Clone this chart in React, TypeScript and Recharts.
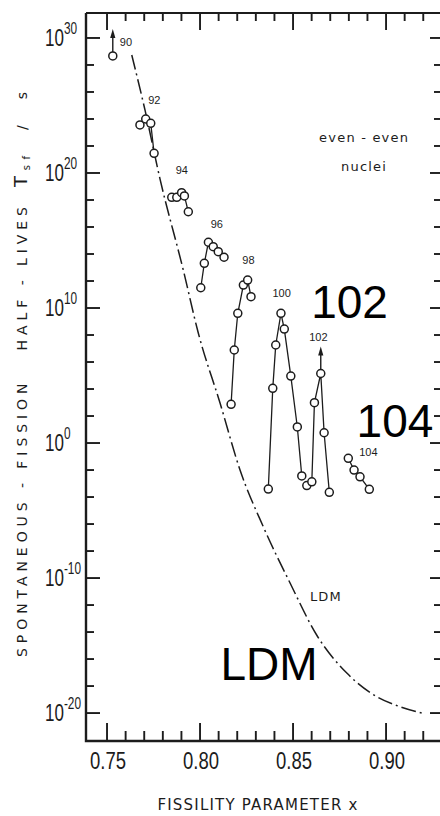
import React from 'react';
import { ComposedChart, Line, Scatter, XAxis, YAxis } from 'recharts';

const INK = '#1c1c1c';

// x = fissility parameter, y = log10(T_sf / s)
const Z90 = [{ x: 0.7531, y: 28.67, lowerLimit: true }];
const Z92 = [
  { x: 0.7677, y: 23.56 },
  { x: 0.7708, y: 24.0 },
  { x: 0.7735, y: 23.68 },
  { x: 0.7753, y: 21.46 },
];
const Z94 = [
  { x: 0.7848, y: 18.2 },
  { x: 0.7875, y: 18.2 },
  { x: 0.7901, y: 18.54 },
  { x: 0.7916, y: 18.3 },
  { x: 0.7937, y: 17.13 },
];
const Z96 = [
  { x: 0.8004, y: 11.5 },
  { x: 0.8023, y: 13.31 },
  { x: 0.8045, y: 14.87 },
  { x: 0.8071, y: 14.54 },
  { x: 0.8098, y: 14.17 },
  { x: 0.8129, y: 13.76 },
];
const Z98 = [
  { x: 0.8167, y: 2.87 },
  { x: 0.8184, y: 6.89 },
  { x: 0.8203, y: 9.61 },
  { x: 0.8233, y: 11.7 },
  { x: 0.8256, y: 12.07 },
  { x: 0.8274, y: 10.84 },
];
const Z100 = [
  { x: 0.8367, y: -3.41 },
  { x: 0.8391, y: 4.05 },
  { x: 0.8407, y: 7.26 },
  { x: 0.8435, y: 9.61 },
  { x: 0.8453, y: 8.44 },
  { x: 0.8488, y: 4.96 },
  { x: 0.8523, y: 1.19 },
  { x: 0.8547, y: -2.44 },
];
const Z102 = [
  { x: 0.8574, y: -3.15 },
  { x: 0.8601, y: -2.87 },
  { x: 0.8615, y: 2.99 },
  { x: 0.8649, y: 5.15, lowerLimit: true },
  { x: 0.8667, y: 0.76 },
  { x: 0.8695, y: -3.65 },
];
const Z104 = [
  { x: 0.8797, y: -1.13 },
  { x: 0.8828, y: -2.0 },
  { x: 0.886, y: -2.5 },
  { x: 0.891, y: -3.43 },
];
const GROUPS = [Z90, Z92, Z94, Z96, Z98, Z100, Z102, Z104];

// liquid drop model curve
const LDM = [
  { x: 0.7633, y: 28.74 },
  { x: 0.7704, y: 24.67 },
  { x: 0.7785, y: 19.55 },
  { x: 0.791, y: 12.81 },
  { x: 0.7991, y: 8.13 },
  { x: 0.8108, y: 2.94 },
  { x: 0.8215, y: -2.0 },
  { x: 0.834, y: -6.2 },
  { x: 0.8484, y: -10.37 },
  { x: 0.8627, y: -14.22 },
  { x: 0.8789, y: -17.04 },
  { x: 0.895, y: -18.79 },
  { x: 0.9075, y: -19.53 },
  { x: 0.92, y: -20.02 },
];

const GROUP_LABELS = [
  { x: 0.7602, y: 29.7, text: '90' },
  { x: 0.7754, y: 25.4, text: '92' },
  { x: 0.7902, y: 20.2, text: '94' },
  { x: 0.809, y: 16.2, text: '96' },
  { x: 0.826, y: 13.56, text: '98' },
  { x: 0.8439, y: 11.1, text: '100' },
  { x: 0.8636, y: 7.85, text: '102' },
  { x: 0.8905, y: -0.7, text: '104' },
];
const NOTES = [
  { x: 0.8882, y: 22.6, text: 'even - even' },
  { x: 0.8882, y: 20.44, text: 'nuclei' },
  { x: 0.8677, y: -11.44, text: 'LDM' },
];
const BIG_LABELS = [
  { x: 0.8804, y: 10.48, text: '102' },
  { x: 0.9048, y: 1.7, text: '104' },
  { x: 0.8371, y: -16.33, text: 'LDM' },
];

const X_TICKS = [0.75, 0.76, 0.77, 0.78, 0.79, 0.8, 0.81, 0.82, 0.83, 0.84, 0.85, 0.86, 0.87, 0.88, 0.89, 0.9, 0.91, 0.92];
const Y_TICKS = [-20, -18, -16, -14, -12, -10, -8, -6, -4, -2, 0, 2, 4, 6, 8, 10, 12, 14, 16, 18, 20, 22, 24, 26, 28, 30];
const X_DOMAIN: [number, number] = [0.7387, 0.929];
const Y_DOMAIN: [number, number] = [-22.07, 31.85];

const isMajorX = (v: number) => Math.round(v * 100) % 5 === 0;
const isMajorY = (v: number) => v % 10 === 0;

// tick mark anchors on the four edges of the frame
const BOTTOM_MARKS = X_TICKS.map((x) => ({ x, y: Y_DOMAIN[0], major: isMajorX(x) }));
const TOP_MARKS = X_TICKS.map((x) => ({ x, y: Y_DOMAIN[1], major: isMajorX(x) }));
const LEFT_MARKS = Y_TICKS.map((y) => ({ x: X_DOMAIN[0], y, major: isMajorY(y) }));
const RIGHT_MARKS = Y_TICKS.map((y) => ({ x: X_DOMAIN[1], y, major: isMajorY(y) }));
const FRAME_LB = [
  { x: X_DOMAIN[0], y: Y_DOMAIN[1] },
  { x: X_DOMAIN[0], y: Y_DOMAIN[0] },
  { x: X_DOMAIN[1], y: Y_DOMAIN[0] },
];
const FRAME_TOP = [
  { x: X_DOMAIN[0], y: Y_DOMAIN[1] },
  { x: X_DOMAIN[1], y: Y_DOMAIN[1] },
];

const FONT = 'Liberation Sans, Arial, sans-serif';

const BottomTickLabel = (props: any) => {
  const { x, y, payload } = props;
  if (!isMajorX(payload.value)) return <g />;
  return (
    <text x={x + 1} y={y + 28} textAnchor="middle" fontFamily={FONT} fontSize={23} fill={INK} textLength={36}
      lengthAdjust="spacingAndGlyphs">
      {payload.value.toFixed(2)}
    </text>
  );
};

const LeftTickLabel = (props: any) => {
  const { x, y, payload } = props;
  const v = payload.value;
  if (!isMajorY(v)) return <g />;
  return (
    <g transform={`translate(${x - 41}, ${y + 8}) scale(0.74, 1)`}>
      <text x={0} y={0} fontFamily={FONT} fontSize={23} fill={INK}>
        10<tspan dy={-12} fontSize={16}>{String(v)}</tspan>
      </text>
    </g>
  );
};

const markShape = (dir: 'up' | 'down' | 'right' | 'left') => (p: any) => {
  const { cx, cy, payload } = p;
  const major = payload.major;
  let len: number;
  if (dir === 'up') len = major ? 18 : 10;
  else if (dir === 'down') len = major ? 17 : 8;
  else if (dir === 'right') len = major ? 14 : 8;
  else len = major ? 10 : 6;
  const dx = dir === 'right' ? len : dir === 'left' ? -len : 0;
  const dy = dir === 'up' ? -len : dir === 'down' ? len : 0;
  return <path d={`M${cx},${cy} L${cx + dx},${cy + dy}`} stroke={INK} strokeWidth={1.9} fill="none" />;
};

const renderDot = (p: any) => {
  const { cx, cy, payload } = p;
  return (
    <g key={`dot-${cx}-${cy}`}>
      {payload.lowerLimit && (
        <g>
          <line x1={cx} x2={cx} y1={cy - 4} y2={cy - 20} stroke={INK} strokeWidth={1.4} />
          <path d={`M${cx},${cy - 27} L${cx - 2.6},${cy - 18} L${cx + 2.6},${cy - 18} Z`} fill={INK} />
        </g>
      )}
      <circle cx={cx} cy={cy} r={4} fill="#fff" stroke={INK} strokeWidth={1.5} />
    </g>
  );
};

const smallText = (p: any) => (
  <text x={p.cx} y={p.cy + 4} textAnchor="middle" fontFamily={FONT} fontSize={11} fill={INK}>
    {p.payload.text}
  </text>
);

const noteText = (p: any) => (
  <text x={p.cx} y={p.cy + 4} textAnchor="middle" fontFamily="DejaVu Sans, sans-serif" fontSize={13} letterSpacing={1.2} fill={INK}>
    {p.payload.text}
  </text>
);

const bigText = (p: any) => (
  <text x={p.cx} y={p.cy + 16.5} textAnchor="middle" fontFamily={FONT} fontSize={46} fill="#000">
    {p.payload.text}
  </text>
);

const xTitle = (props: any) => {
  const vb = props.viewBox;
  return (
    <text x={vb.x + vb.width / 2 - 5} y={vb.y + 69} textAnchor="middle" fontFamily="DejaVu Sans, sans-serif" fontSize={15}
      letterSpacing={1.2} fill={INK}>
      FISSILITY PARAMETER x
    </text>
  );
};

const yTitle = (props: any) => {
  const vb = props.viewBox;
  const bottom = vb.y + vb.height;
  return (
    <g fontFamily="DejaVu Sans, sans-serif" fill={INK}>
      <text transform={`translate(27, ${bottom - 84}) rotate(-90)`} fontSize={14} textLength={450} lengthAdjust="spacing"
        style={{ whiteSpace: 'pre' }}>
        SPONTANEOUS - FISSION   HALF - LIVES
      </text>
      <text transform={`translate(27, ${bottom - 554}) rotate(-90)`} fontSize={14} textLength={95} lengthAdjust="spacing"
        style={{ whiteSpace: 'pre' }}>
        <tspan fontSize={18}>T</tspan>
        <tspan fontSize={10} dy={3}>sf</tspan>
        <tspan dy={-3}>  /  s</tspan>
      </text>
    </g>
  );
};

export default function App() {
  return (
    <div style={{ position: 'absolute', left: 0, top: 0, width: 440, height: 816, background: '#fff' }}>
      <ComposedChart width={440} height={816} margin={{ top: 13, right: 0, bottom: 0, left: 0 }}>
        <XAxis xAxisId="b" type="number" dataKey="x" domain={X_DOMAIN} ticks={X_TICKS} interval={0}
          height={75} tickSize={0} tickMargin={0} tickLine={false} tick={<BottomTickLabel />}
          axisLine={false} label={{ content: xTitle }} />
        <YAxis yAxisId="l" type="number" domain={Y_DOMAIN} ticks={Y_TICKS} interval={0} width={86}
          tickSize={0} tickMargin={0} tickLine={false} tick={<LeftTickLabel />} axisLine={false}
          label={{ content: yTitle }} />

        {/* frame and inward tick marks */}
        <Line xAxisId="b" yAxisId="l" data={FRAME_LB} dataKey="y" type="linear" stroke={INK} strokeWidth={2.4}
          dot={false} activeDot={false} isAnimationActive={false} />
        <Line xAxisId="b" yAxisId="l" data={FRAME_TOP} dataKey="y" type="linear" stroke={INK} strokeWidth={1.8}
          dot={false} activeDot={false} isAnimationActive={false} />
        <Scatter xAxisId="b" yAxisId="l" data={BOTTOM_MARKS} dataKey="y" shape={markShape('up')} isAnimationActive={false} />
        <Scatter xAxisId="b" yAxisId="l" data={TOP_MARKS} dataKey="y" shape={markShape('down')} isAnimationActive={false} />
        <Scatter xAxisId="b" yAxisId="l" data={LEFT_MARKS} dataKey="y" shape={markShape('right')} isAnimationActive={false} />
        <Scatter xAxisId="b" yAxisId="l" data={RIGHT_MARKS} dataKey="y" shape={markShape('left')} isAnimationActive={false} />

        <Line xAxisId="b" yAxisId="l" data={LDM} dataKey="y" type="monotone" stroke={INK} strokeWidth={1.5}
          strokeDasharray="15 4 2 4" dot={false} activeDot={false} isAnimationActive={false} />
        {GROUPS.map((g, i) => (
          <Line key={i} xAxisId="b" yAxisId="l" data={g} dataKey="y" type="linear" stroke={INK} strokeWidth={1.3}
            dot={renderDot} activeDot={false} isAnimationActive={false} />
        ))}
        <Scatter xAxisId="b" yAxisId="l" data={GROUP_LABELS} dataKey="y" shape={smallText} isAnimationActive={false} />
        <Scatter xAxisId="b" yAxisId="l" data={NOTES} dataKey="y" shape={noteText} isAnimationActive={false} />
        <Scatter xAxisId="b" yAxisId="l" data={BIG_LABELS} dataKey="y" shape={bigText} isAnimationActive={false} />
      </ComposedChart>
    </div>
  );
}
